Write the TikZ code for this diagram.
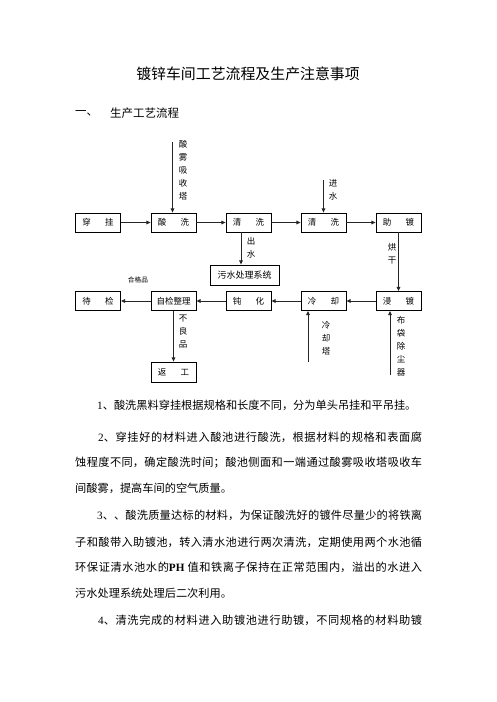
\documentclass[tikz,border=0pt]{standalone}
\usepackage{fontspec}
\setmainfont{Noto Sans CJK SC}
\newfontfamily\lat{Liberation Serif}
\usetikzlibrary{arrows.meta}
\XeTeXlinebreaklocale "zh"
\XeTeXlinebreakskip=0pt plus 3pt minus 0.6pt
\newcommand\jline[2]{\parbox{#1}{\parfillskip=0pt\parindent=0pt\rightskip=0pt\leftskip=0pt #2\par}}
\begin{document}
\begin{tikzpicture}[x=1pt,y=-1pt,
  box/.style={draw=black, line width=0.8pt, minimum width=45pt, minimum height=19pt, inner sep=0pt, font=\fontsize{8.5}{10}\selectfont},
  arr/.style={line width=0.9pt, draw=black!85, -{Triangle[length=4.2pt,width=3.6pt]}},
  lbl/.style={font=\fontsize{8.5}{13}\selectfont, align=center, inner sep=0pt},
  body/.style={font=\fontsize{11.2}{13}\selectfont, anchor=west, inner sep=0pt}]
\useasboundingbox (0,0) rectangle (496,702);
\fill[white] (0,0) rectangle (496,702);

% title
\node[inner sep=0pt, font=\fontsize{14.9}{16}\selectfont] (title) at (248,74) {镀锌车间工艺流程及生产注意事项};
\node[body, font=\fontsize{11.5}{13}\selectfont] (h1) at (75,113) {一、};
\node[body, font=\fontsize{11.5}{13}\selectfont] (h2) at (110,113) {生产工艺流程};

% row 1
\node[box] (chuan) at (98,222.5) {穿\hspace{14.5pt}挂};
\node[box] (suan) at (173.5,222.5) {酸\hspace{14.5pt}洗};
\node[box] (qx1) at (248.5,222.5) {清\hspace{14.5pt}洗};
\node[box] (qx2) at (323.5,222.5) {清\hspace{14.5pt}洗};
\node[box] (zhu) at (398.5,222.5) {助\hspace{14.5pt}镀};
% row 2
\node[box] (dai) at (98,301) {待\hspace{14.5pt}检};
\node[box] (zij) at (173.5,301) {自检整理};
\node[box] (dun) at (248.5,301) {钝\hspace{14.5pt}化};
\node[box] (leng) at (323.5,301) {冷\hspace{14.5pt}却};
\node[box] (jin) at (398.5,301) {浸\hspace{14.5pt}镀};
\node[box, minimum width=69pt, minimum height=20pt, font=\fontsize{9}{10}\selectfont] (ws) at (244.5,275) {污水处理系统};
\node[box, minimum height=20pt] (fg) at (173.5,372) {返\hspace{14.5pt}工};

% horizontal arrows
\draw[arr] (chuan) -- (suan);
\draw[arr] (suan) -- (qx1);
\draw[arr] (qx1) -- (qx2);
\draw[arr] (qx2) -- (zhu);
\draw[arr] (jin) -- (leng);
\draw[arr] (leng) -- (dun);
\draw[arr] (dun) -- (zij);
\draw[arr] (zij) -- (dai);

% vertical arrows
\coordinate (a1) at (172.5,142);
\draw[arr] (a1) -- (a1 |- suan.north);
\coordinate (a2) at (323.5,180);
\draw[arr] (a2) -- (qx2.north);
\coordinate (a3) at (241,232);
\draw[arr] (qx1.south -| a3) -- (ws.north -| a3);
\draw[arr] (zhu.south) -- (jin.north);
\draw[arr] (zij.south) -- (fg.north);
\coordinate (a4) at (308,362);
\draw[arr] (a4) -- (a4 |- leng.south);
\coordinate (a5) at (390,375);
\draw[arr] (a5) -- (a5 |- jin.south);

% labels
\node[lbl] (l1) at (183,170) {酸\\雾\\吸\\收\\塔};
\node[lbl] (l2) at (333,189.5) {进\\水};
\node[lbl] (l3) at (251,248) {出\\水};
\node[lbl] (l4) at (392,254) {烘\\干};
\node[lbl, font=\fontsize{6.7}{8}\selectfont] (l5) at (138,280) {合格品};
\node[lbl] (l6) at (183,332) {不\\良\\品};
\node[lbl] (l7) at (326,338.5) {冷\\却\\塔};
\node[lbl] (l8) at (401,346) {布\\袋\\除\\尘\\器};

% body text
\node[body] (t1) at (97,405) {{\lat 1}、酸洗黑料穿挂根据规格和长度不同，分为单头吊挂和平吊挂。};
\node[body] (t2) at (98,437) {\jline{324pt}{{\lat 2}、穿挂好的材料进入酸池进行酸洗，根据材料的规格和表面腐}};
\node[body] (t3) at (75,463) {\jline{347pt}{蚀程度不同，确定酸洗时间；酸池侧面和一端通过酸雾吸收塔吸收车}};
\node[body] (t4) at (75,488) {间酸雾，提高车间的空气质量。};
\node[body] (t5) at (97,515) {\jline{325pt}{{\lat 3}、、酸洗质量达标的材料，为保证酸洗好的镀件尽量少的将铁离}};
\node[body] (t6) at (75,542) {\jline{347pt}{子和酸带入助镀池，转入清水池进行两次清洗，定期使用两个水池循}};
\node[body] (t7) at (75,567) {\jline{347pt}{环保证清水池水的{\lat\bfseries PH}\hspace{3pt}值和铁离子保持在正常范围内，溢出的水进入}};
\node[body] (t8) at (75,593) {污水处理系统处理后二次利用。};
\node[body] (t9) at (98,620) {\jline{324pt}{{\lat 4}、清洗完成的材料进入助镀池进行助镀，不同规格的材料助镀}};
\end{tikzpicture}
\end{document}
